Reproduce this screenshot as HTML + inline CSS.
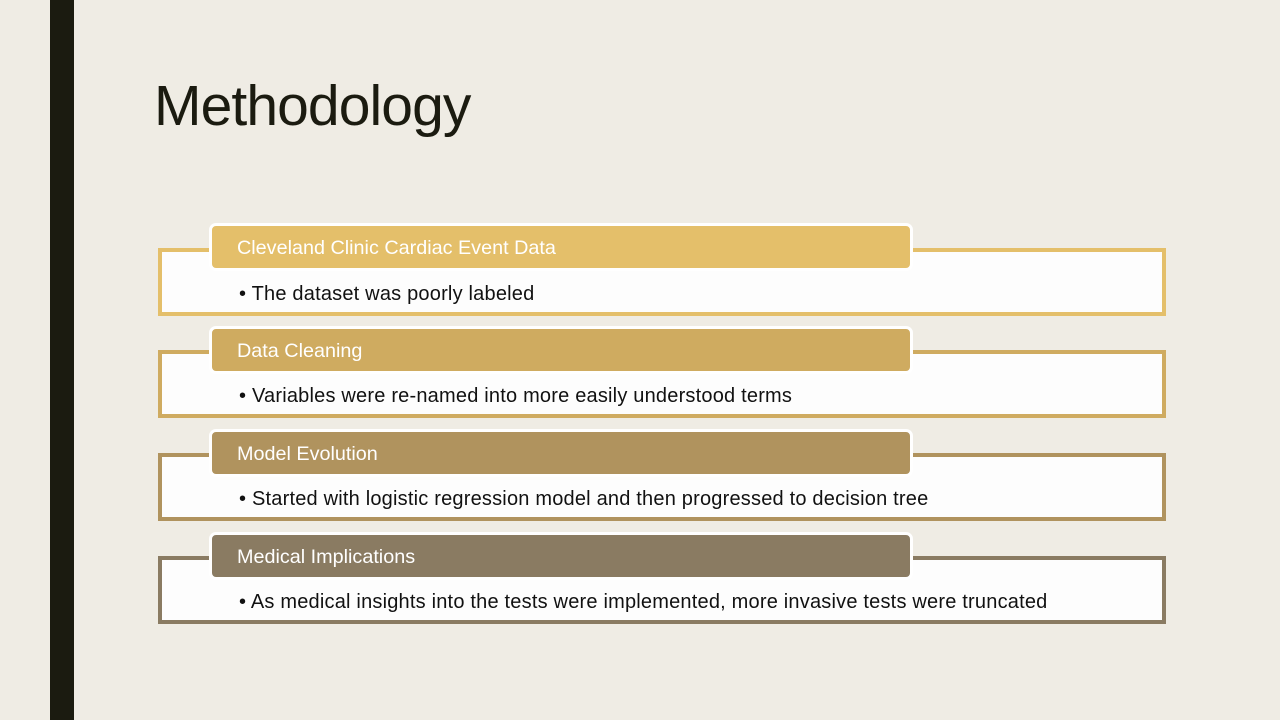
<!DOCTYPE html>
<html><head><style>
body{margin:0;width:1280px;height:720px;background:#EFECE4;position:relative;overflow:hidden;font-family:"Liberation Sans",sans-serif;}
.bar{position:absolute;left:50px;top:0;width:24px;height:720px;background:#1B1B10;}
h1{position:absolute;left:154px;top:73px;margin:0;font-weight:normal;font-size:57px;color:#1B1B10;letter-spacing:-0.9px;}
.box{position:absolute;left:158px;width:1000px;height:60px;border:4px solid;background:#FDFDFD;}
.box span{position:absolute;left:77px;top:31px;font-size:20px;letter-spacing:0.2px;color:#111;}
.hd{position:absolute;left:209px;height:42px;border:3px solid #fff;border-radius:7px;color:#fff;font-size:19.8px;line-height:44px;padding-left:25px;box-sizing:content-box;width:673px;}
</style></head><body>
<div class="bar"></div>
<h1>Methodology</h1>
<div class="box" style="top:248px;border-color:#E4BF6A"><span>• The dataset was poorly labeled</span></div>
<div class="hd" style="top:223px;background:#E4BF6A">Cleveland Clinic Cardiac Event Data</div>
<div class="box" style="top:350px;border-color:#CFAB60"><span>• Variables were re-named into more easily understood terms</span></div>
<div class="hd" style="top:326px;background:#CFAB60">Data Cleaning</div>
<div class="box" style="top:453px;border-color:#B0935E"><span>• Started with logistic regression model and then progressed to decision tree</span></div>
<div class="hd" style="top:429px;background:#B0935E">Model Evolution</div>
<div class="box" style="top:556px;border-color:#8A7B62"><span>• As medical insights into the tests were implemented, more invasive tests were truncated</span></div>
<div class="hd" style="top:532px;background:#8A7B62">Medical Implications</div>
</body></html>
